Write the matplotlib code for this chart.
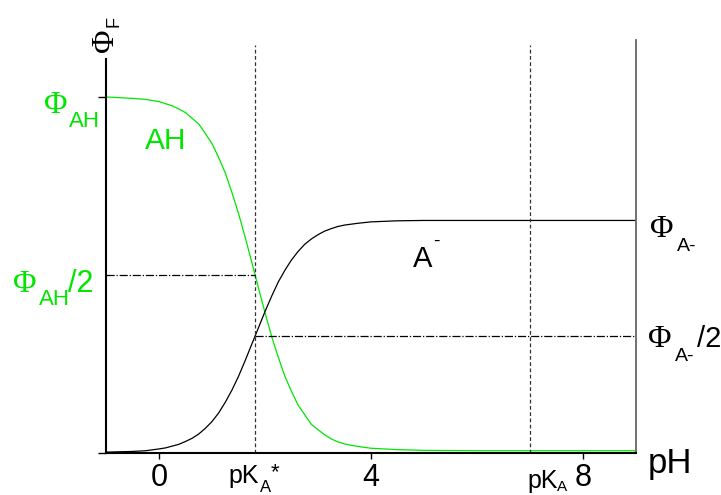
import matplotlib.pyplot as plt

plt.rcParams['font.family'] = 'Liberation Sans'

# fluorescence intensity vs pH for the acid (AH) and the anion (A-)
ph = [-1.0, -0.5, -0.25, 0.0, 0.125, 0.25, 0.375, 0.5, 0.625, 0.75, 0.875,
      1.0, 1.125, 1.25, 1.375, 1.5, 1.625, 1.75, 1.875, 2.0, 2.125, 2.25,
      2.375, 2.5, 2.625, 2.75, 2.875, 3.0, 3.125, 3.25, 3.375, 3.5, 3.75,
      4.0, 4.5, 5.0, 6.0, 7.0, 8.0, 9.0]
phi_ah = [0.999, 0.995, 0.992, 0.986, 0.980, 0.974, 0.965, 0.955, 0.939, 0.923,
          0.896, 0.868, 0.829, 0.786, 0.731, 0.672, 0.605, 0.535, 0.463, 0.393,
          0.326, 0.268, 0.214, 0.172, 0.133, 0.106, 0.079, 0.064, 0.050, 0.038,
          0.030, 0.024, 0.017, 0.012, 0.008, 0.006, 0.005, 0.005, 0.005, 0.005]
phi_a = [0.001, 0.003, 0.005, 0.010, 0.013, 0.018, 0.023, 0.031, 0.040, 0.052,
         0.068, 0.087, 0.111, 0.141, 0.175, 0.214, 0.258, 0.304, 0.350, 0.396,
         0.439, 0.479, 0.512, 0.541, 0.565, 0.585, 0.600, 0.612, 0.622, 0.629,
         0.635, 0.639, 0.644, 0.648, 0.651, 0.652, 0.652, 0.652, 0.652, 0.652]

PHI_AH = 1.0
PHI_A = 0.652
PKA_STAR = 1.81
PKA = 7.0

GREEN = '#00e600'
W, H = 721, 495

fig = plt.figure(figsize=(W / 100, H / 100), dpi=100)
ax = fig.add_axes([106 / W, 42.5 / H, 530 / W, 412.5 / H])
ax.set_xlim(-1, 9)
ax.set_ylim(0, 1.159)

ax.plot(ph, phi_ah, color=GREEN, lw=0.9)
ax.plot(ph, phi_a, color='black', lw=0.9)

# pKa markers and half-intensity guides
ax.plot([PKA_STAR, PKA_STAR], [0, 1.145], color='#333333', lw=0.9, ls=(0, (3, 2)))
ax.plot([PKA, PKA], [0, 1.145], color='#333333', lw=0.9, ls=(0, (3, 2)))
ax.plot([-1, PKA_STAR], [PHI_AH / 2, PHI_AH / 2], color='black', lw=0.9,
        ls=(0, (6.5, 1.5, 1, 1.5)))
ax.plot([PKA_STAR, 9], [PHI_A / 2, PHI_A / 2], color='black', lw=0.9,
        ls=(0, (6.5, 1.5, 1, 1.5)))

# axes frame
ax.spines['top'].set_visible(False)
ax.spines['left'].set_bounds(0, 1.105)
ax.spines['left'].set_linewidth(1.5)
ax.spines['bottom'].set_linewidth(1.5)
ax.spines['right'].set_color('#666666')
ax.spines['right'].set_linewidth(1.3)

ax.set_xticks([0, 4, 8])
ax.set_xticklabels(['0', '4', '8'], fontsize=22)
ax.set_yticks([0, PHI_AH])
ax.set_yticklabels([])
ax.tick_params(axis='x', length=4.5, width=1, pad=3)
ax.tick_params(axis='y', length=6, width=1)


def put(x, y, s, size, color='black', family='Liberation Sans', **kw):
    # x, y in pixels from the top-left corner, y on the text baseline
    fig.text(x / W, 1 - y / H, s, fontsize=size, color=color, family=family,
             ha='left', va='baseline', **kw)


SERIF = 'Liberation Serif'

# intensity labels, left side
put(44, 113, '\u03a6', 23, GREEN, SERIF)
put(69, 127, 'AH', 16, GREEN)
put(13, 292, '\u03a6', 23, GREEN, SERIF)
put(39, 305, 'AH', 16, GREEN)
put(68, 292, '/2', 22, GREEN)

# intensity labels, right side
put(650, 237, '\u03a6', 23, family=SERIF)
put(677, 251, 'A-', 14)
put(648, 347, '\u03a6', 23, family=SERIF)
put(675, 361, 'A-', 14)
put(697, 347, '/2', 21)

# vertical axis title, rotated
put(113, 52, '\u03a6', 23, family=SERIF, rotation=90, rotation_mode='anchor')
put(118, 27, 'F', 13, rotation=90, rotation_mode='anchor')

# horizontal axis title and pKa labels
put(648, 473, 'pH', 25)
put(228, 483, 'pK', 18)
put(260, 492, 'A', 12)
put(271, 478, '*', 16)
put(527, 488, 'pK', 18)
put(557, 491, 'A', 11)

# curve labels
put(145, 149, 'AH', 21.5, GREEN)
put(413, 267, 'A', 21)
put(433, 246, '-', 14)

fig.savefig('out.png', dpi=100)
